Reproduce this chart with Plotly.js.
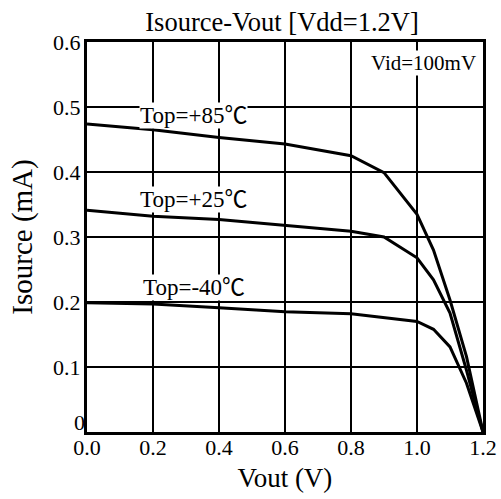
<!DOCTYPE html>
<html>
<head>
<meta charset="utf-8">
<script src="https://cdn.plot.ly/plotly-3.0.1.min.js"></script>
<style>html,body{margin:0;padding:0;background:#fff;}#chart{width:501px;height:499px;}</style>
</head>
<body>
<div id="chart"></div>
<script>
const vout = [0.0, 0.2, 0.4, 0.6, 0.8, 0.9, 1.0, 1.05, 1.1, 1.15, 1.2];
const i85 = [0.474, 0.465, 0.453, 0.443, 0.425, 0.399, 0.335, 0.280, 0.203, 0.116, 0.0];
const i25 = [0.341, 0.332, 0.327, 0.318, 0.309, 0.300, 0.268, 0.234, 0.183, 0.095, 0.0];
const im40 = [0.199, 0.197, 0.191, 0.185, 0.182, 0.176, 0.170, 0.158, 0.131, 0.075, 0.0];
const seriesLabels = ['Top=+85℃', 'Top=+25℃', 'Top=-40℃'];
const labelY = [0.487, 0.358, 0.222];
const xTicks = [0.0, 0.2, 0.4, 0.6, 0.8, 1.0, 1.2];
const xTickText = ['0.0', '0.2', '0.4', '0.6', '0.8', '1.0', '1.2'];
const yTicks = [0, 0.1, 0.2, 0.3, 0.4, 0.5, 0.6];
const yTickText = ['0', '0.1', '0.2', '0.3', '0.4', '0.5', '0.6'];

const font = '"Liberation Serif", "Times New Roman", "Noto Sans CJK JP", serif';
const series = [i85, i25, im40];
const traces = series.map((ys, k) => ({
  x: vout, y: ys, type: 'scatter', mode: 'lines',
  yaxis: k === 2 ? 'y2' : 'y',
  line: {color: '#000', width: 3}, name: seriesLabels[k], hoverinfo: 'skip'
}));

const annotations = seriesLabels.map((t, k) => ({
  x: 0.324, y: labelY[k], xref: 'x', yref: 'y', text: t, showarrow: false,
  font: {family: font, size: 23, color: '#000'}, bgcolor: '#fff', borderpad: 0
}));
annotations.push({
  x: 1.182, y: 0.567, xref: 'x', yref: 'y', text: 'Vid=100mV', showarrow: false,
  xanchor: 'right', font: {family: font, size: 21, color: '#000'}, bgcolor: '#fff', borderpad: 0
});

// the "0" label sits a little above its gridline in the reference: drawn by an overlaid axis
const mainY = yTicks.map((v, i) => [v, yTickText[i]]).filter(p => p[0] !== 0);

const layout = {
  width: 501, height: 499,
  margin: {l: 87, r: 18, t: 42, b: 67},
  paper_bgcolor: '#fff', plot_bgcolor: '#fff',
  showlegend: false,
  font: {family: font, color: '#000'},
  title: {text: 'Isource-Vout [Vdd=1.2V]', font: {family: font, size: 26.5, color: '#000'}, x: 0.563, xanchor: 'center', y: 0.957, yanchor: 'middle'},
  xaxis: {
    range: [0, 1.2], tickvals: xTicks, ticktext: xTickText,
    showgrid: true, gridcolor: '#000', gridwidth: 2,
    showline: true, linecolor: '#000', linewidth: 3, mirror: true,
    zeroline: false, ticks: '', ticklabelstandoff: -6,
    tickfont: {family: font, size: 22, color: '#000'},
    title: {text: 'Vout (V)', font: {family: font, size: 27, color: '#000'}, standoff: 9}
  },
  yaxis: {
    range: [0, 0.6], tickvals: mainY.map(p => p[0]), ticktext: mainY.map(p => p[1]),
    showgrid: true, gridcolor: '#000', gridwidth: 2,
    showline: true, linecolor: '#000', linewidth: 3, mirror: true,
    zeroline: false, ticks: '', ticklabelstandoff: -1,
    tickfont: {family: font, size: 22, color: '#000'},
    title: {text: 'Isource (mA)', font: {family: font, size: 29, color: '#000'}, standoff: 12}
  },
  yaxis2: {
    overlaying: 'y', side: 'left', range: [0, 0.6],
    tickvals: [yTicks[0]], ticktext: [yTickText[0]],
    showgrid: false, showline: false, zeroline: false, ticks: '',
    ticklabelstandoff: 1, ticklabelshift: -10,
    tickfont: {family: font, size: 22, color: '#000'}
  },
  annotations: annotations
};
Plotly.newPlot('chart', traces, layout, {displayModeBar: false, staticPlot: true});
</script>
</body>
</html>
